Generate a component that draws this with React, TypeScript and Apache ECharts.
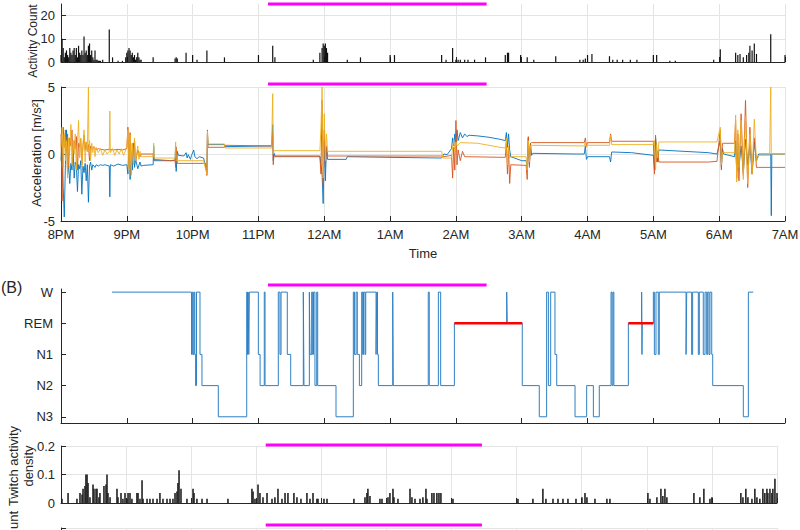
import React, { useEffect, useRef } from "react";
import * as echarts from "echarts";

// x values are minutes after 8PM
const timeLabels = ["8PM", "9PM", "10PM", "11PM", "12AM", "1AM", "2AM", "3AM", "4AM", "5AM", "6AM", "7AM"];
const stageNames = ["N3", "N2", "N1", "REM", "W"];
const sleepWindow = [188.7, 388];

const activityCount: number[][] = [
  [0, 3], [1, 10], [2, 6], [3, 2], [4, 4], [5, 5], [6, 3], [7, 2], [8, 6], [9, 4], [10, 3], [11, 5], [12, 6], [13, 3], [14, 6], [15, 2], [16, 7], [17, 4], [18, 3], [19, 5], [20, 3], [21, 11], [22, 4], [23, 5], [24, 3], [25, 7], [26, 8], [27, 3], [28, 5], [29, 2], [30, 1], [31, 5], [32, 1], [33, 1], [34, 0.5], [35, 0.5], [36, 0.5], [38, 1], [44, 14], [47, 2], [52, 0.5], [56, 0.5],
  [59, 2], [60, 4], [61, 5], [62, 6], [63, 5], [64, 3], [65, 4], [66, 2], [67, 3], [68, 1], [69, 2], [70, 4], [71, 2], [72, 1], [73, 1], [84, 2], [104, 1.5], [105, 2], [106, 1.5], [114, 4], [120, 3], [124, 1], [133, 5], [149, 2], [180, 3], [193, 7], [195, 2], [230, 1], [236, 4], [238, 6], [239, 8], [240, 7], [241, 8], [242, 6], [243, 4], [261, 1], [273, 2], [300, 3], [304, 3], [347, 3], [351, 1], [357, 6], [360, 1], [362, 1], [364, 1], [368, 1], [371, 1], [377, 1], [387, 2], [405, 3], [407, 4], [408, 4], [419, 3], [425, 2], [431, 1], [451, 2.5], [473, 1], [476, 1], [478, 1.5], [480, 3], [484, 3.5], [500, 2.5], [503, 1], [507, 1], [512, 1], [519, 1], [525, 1], [540, 3], [543, 3], [555, 0.5], [560, 0.5], [595, 1], [601, 5.5], [615, 4], [617, 3], [619, 3.5], [622, 2], [625, 3], [627, 4], [628, 7], [630, 5], [632, 8], [634, 3.5], [647, 12], [660, 3],
];

const accBlue: number[][] = [
  [0, -0.5], [1, 1.2], [2, -2.5], [3, -4.7], [4, -0.8], [5, 1.8], [6, -1.5], [7, -0.9], [8, -2.2], [9, -0.7], [10, -1.2], [11, 0.3], [12, -1.8], [13, -0.6], [14, -0.9], [15, -2.8], [16, -0.8], [17, -1.1], [18, -0.5], [19, -3.0], [20, -0.9], [21, -1.4], [22, -0.7], [23, -2.0], [24, -0.8], [25, -3.6], [26, -0.9], [27, -0.6], [28, -1.2], [29, -0.8], [30, -0.9], [31, -1.0], [32, -0.8], [34, -0.9], [36, -0.8], [38, -0.85], [40, -0.8], [44, -0.9], [44.5, -3.2], [45, -0.8], [48, -0.9], [52, -0.75], [56, -0.85], [60, -0.8], [61, -1.5], [62, 0.5], [63, -1.9], [64, -0.5], [65, -1.2], [66, 0.8], [67, -1.0], [68, -0.4], [70, -1.1], [72, -0.6], [73, -0.9], [75, -0.85], [84, -0.8], [84.5, 0.6], [85, -0.5], [100, -0.5], [104, -0.45], [104.5, 0.6], [105, -1.3], [106, 0.2], [107, -0.1], [112, -0.15], [114, 0.1], [115, -0.3], [116, -0.05], [118, -0.4], [119, -0.1], [121, 0.3], [122, -0.2], [124, -0.35], [126, -0.2], [130, -0.3], [133, -1.4], [133.5, 1.5], [134, 0.7], [149, 0.7], [149.5, 0.55], [192, 0.6], [193, 2.2], [193.5, -0.5], [194, 0.1], [195, -0.15], [236, -0.15], [238, -1.5], [239, -3.7], [240, 1.0], [241, -2.0], [242, 0.5], [243, -0.4], [260, -0.4], [261, -0.2], [300, -0.25], [347, -0.3], [349, 0], [352, -0.05], [356, 0.4], [357, 1.2], [358, 0.6], [359, 1.5], [360, 0.8], [361, 1.8], [362, 1.0], [364, 1.6], [366, 1.2], [368, 1.5], [370, 1.3], [372, 1.4], [380, 1.35], [390, 1.25], [400, 1.1], [405, 1.0], [406, 1.6], [407, 0.5], [408, 1.5], [409, 0.3], [410, -0.2], [420, -0.5], [424, -0.5], [425, -1.0], [426, 1.2], [427, -0.8], [428, 0.8], [429, -0.1], [430, 0.05], [470, 0], [477, 0], [478, 0.6], [479, -0.4], [480, -0.2], [500, -0.2], [501, -0.6], [502, 0.15], [520, 0.1], [540, -0.1], [541, -1.1], [542, 1.2], [543, 0.3], [544, -0.6], [545, 0.3], [590, 0.1], [598, 0], [601, 1.0], [602, -1.0], [603, 0.4], [604, 0], [614, -0.2], [615, 1.0], [616, -1.3], [617, 0.8], [618, -0.9], [620, 0.6], [622, -1.4], [624, 1.1], [626, -0.8], [628, 0.7], [630, -1.5], [632, 0.9], [634, -0.5], [636, 0], [647, 0], [647.5, -4.6], [648, 0], [660, 0],
];

const accOrange: number[][] = [
  [0, 1.5], [1, -3.5], [2, 2.0], [3, 0.5], [4, 1.8], [5, 0.2], [6, 1.5], [7, -1.0], [8, 1.2], [9, 0.6], [10, 1.8], [11, -0.5], [12, 1.0], [13, 0.4], [14, 1.3], [15, -1.2], [16, 0.8], [17, 0.5], [18, 1.1], [19, -0.8], [20, 0.6], [21, 1.4], [22, 0.3], [23, 0.9], [24, 0.2], [25, 0.7], [26, -0.5], [27, 0.6], [28, 0.4], [30, 0.5], [32, 0.3], [34, 0.4], [36, 0.35], [40, 0.3], [44, 0.35], [48, 0.3], [52, 0.35], [56, 0.3], [60, 0.4], [61, 2.0], [62, -0.8], [63, 1.6], [64, -1.5], [65, 0.8], [66, -0.3], [67, 1.0], [68, -0.6], [70, 0.3], [72, -0.2], [73, 0], [84, 0], [84.5, -0.5], [85, -0.4], [100, -0.5], [104, -0.5], [104.5, -1.0], [105, 0.5], [106, -0.7], [130, -0.7], [132, -0.7], [133, -1.6], [133.5, 1.8], [134, 0.5], [149, 0.5], [149.5, 0.65], [192, 0.6], [193, 1.5], [193.5, -0.8], [194, -0.2], [236, -0.2], [237, -1.5], [238, 4.0], [239, -2.3], [240, 1.8], [241, -1.0], [242, 0.6], [243, -0.15], [347, -0.15], [349, -0.2], [356, -0.1], [357, -1.8], [358, 0.5], [359, -1.2], [360, 2.5], [361, -0.8], [362, 0.3], [364, -0.5], [366, 0.2], [368, -0.2], [405, -0.25], [406, 0.8], [407, -1.5], [408, 0.4], [409, -2.2], [410, -0.8], [424, -0.85], [425, -1.9], [426, 1.3], [427, -1.0], [428, 0.8], [429, 0.85], [477, 0.85], [478, 1.2], [479, 0.6], [480, 0.85], [500, 0.85], [501, 1.5], [502, 0.95], [540, 0.95], [541, -1.5], [542, 1.4], [543, -0.6], [544, 0.2], [545, -0.6], [590, -0.6], [598, -0.55], [601, 1.8], [602, -1.2], [603, 0.8], [604, 0.8], [614, 0.8], [615, 2.5], [616, -1.8], [617, 1.5], [618, -2.0], [620, 3.0], [622, -1.6], [624, 4.0], [626, -2.5], [628, 2.0], [630, -1.5], [632, 1.2], [634, -1.0], [636, -1.0], [660, -1.0],
];

const accYellow: number[][] = [
  [0, 0.5], [1, 2.0], [2, -1.0], [3, 1.5], [4, -0.5], [5, 1.0], [6, -1.8], [7, 1.2], [8, 0.2], [9, 2.2], [10, -0.8], [11, 1.0], [12, 0.0], [13, 1.5], [14, -1.2], [15, 0.8], [16, 2.5], [17, -0.3], [18, 1.2], [19, -1.0], [20, 0.6], [21, 1.8], [22, -0.6], [23, 0.9], [24, 0.2], [25, 5.0], [25.5, 0.2], [26, 1.0], [27, -0.5], [28, 0.8], [29, 0.1], [30, 0.6], [31, -0.2], [32, 0.5], [34, 0.1], [36, 0.4], [38, -0.1], [40, 0.3], [42, 0.0], [44, 0.2], [44.5, 3.2], [45, 0.1], [47, 0.4], [49, -0.1], [51, 0.3], [53, 0.0], [55, 0.4], [57, -0.1], [59, 0.3], [60, 0.5], [61, 1.8], [62, -1.2], [63, 1.4], [64, -1.6], [65, 0.8], [66, -0.8], [67, 1.2], [68, -0.5], [70, 0.6], [71, -0.4], [72, 0.2], [73, -0.2], [84, -0.2], [84.5, 0.8], [85, -0.3], [104, -0.3], [104.5, 0.9], [105, -0.5], [106, -0.5], [130, -0.5], [133, -1.5], [133.5, 1.7], [134, 0.75], [149, 0.75], [149.5, 0.45], [192, 0.45], [193, 4.5], [193.5, 0.0], [194, 0.25], [236, 0.25], [237, 2.0], [238, 5.0], [239, -1.8], [240, 3.0], [241, -0.5], [242, 1.5], [243, 0.2], [347, 0.2], [348, -0.3], [356, -0.3], [357, 0.5], [358, 1.0], [359, 0.2], [360, 0.9], [361, 0.6], [364, 0.85], [380, 0.8], [400, 0.5], [405, 0.45], [406, 1.2], [407, -0.8], [408, 0.6], [409, -0.3], [410, -0.2], [424, -0.2], [425, -1.2], [426, 1.0], [427, -0.6], [428, 0.65], [477, 0.6], [478, 0.9], [479, 0.5], [480, 0.65], [500, 0.65], [501, 1.4], [502, 0.7], [540, 0.7], [541, 1.0], [542, -1.2], [543, 0.7], [544, -0.3], [545, 0.9], [598, 0.9], [601, 2.0], [602, -0.8], [603, 0.1], [614, 0.1], [615, 2.9], [616, -2.1], [617, 1.8], [618, -1.0], [620, 2.5], [622, -1.9], [624, 2.8], [626, -2.2], [628, 1.5], [630, -1.5], [632, 2.6], [634, -0.6], [636, -0.1], [646, -0.1], [647, 5.0], [647.5, 0], [660, 0],
];

// stage index: 0=N3, 1=N2, 2=N1, 3=REM, 4=W ; [minute stage starts, stage]
const hypnogram: number[][] = [
  [46.5, 4], [119.0, 2], [119.7, 4], [120.5, 2], [121.3, 4], [122.0, 2], [122.7, 1], [123.5, 4], [126.7, 2], [128.5, 1], [143.4, 0], [169.3, 4], [170.0, 2], [170.6, 4], [171.2, 2], [171.7, 4], [179.9, 2], [181.5, 1], [185.3, 4], [186.0, 1], [198.1, 4], [199.6, 2], [200.6, 4], [206.3, 2], [209.4, 1], [220.9, 4], [221.5, 1], [226.4, 4], [227.0, 2], [228.5, 4], [229.4, 2], [230.2, 4], [231.5, 1], [233.1, 4], [234.0, 1], [250.7, 0], [266.5, 4], [267.5, 2], [269.0, 4], [270.1, 2], [272.0, 1], [274.1, 4], [275.0, 2], [275.8, 4], [277.1, 2], [277.8, 4], [287.2, 2], [287.8, 4], [288.5, 2], [289.3, 1], [302.4, 4], [302.9, 1], [334.8, 4], [335.7, 1], [344.0, 4], [346.1, 1], [358.6, 3], [406.3, 4], [406.8, 3], [420.5, 1], [436.0, 0], [442.7, 4], [444.3, 1], [446.4, 4], [450.3, 2], [451.9, 1], [468.6, 0], [479.2, 1], [485.3, 0], [490.7, 1], [501.4, 4], [502.3, 1], [503.2, 4], [504.0, 1], [517.2, 3], [529.3, 4], [529.6, 2], [529.9, 3], [540.0, 4], [540.9, 2], [542.4, 4], [544.5, 2], [545.4, 4], [569.8, 2], [570.4, 4], [574.9, 2], [575.8, 4], [581.0, 2], [581.9, 4], [585.5, 2], [587.1, 4], [588.6, 2], [589.5, 4], [590.7, 2], [591.6, 4], [593.2, 2], [594.1, 1], [622.0, 0], [626.6, 4], [631.1, 4],
];

const remPeriods: number[][] = [[358.6, 420.5], [517.2, 540.0]];

const twitchDensity: number[][] = [
  [0.9, 0.015], [6.5, 0.035], [14.7, 0.015], [17.5, 0.035], [19.4, 0.03], [20.3, 0.05], [22.1, 0.06], [23, 0.1], [24, 0.1], [24.9, 0.07], [26.7, 0.02], [29.5, 0.065], [30.4, 0.05], [32.3, 0.05], [33.2, 0.05], [35, 0.02], [35.9, 0.035], [39.6, 0.06], [41.5, 0.065], [42.4, 0.1], [43.3, 0.035], [45.2, 0.02], [51.6, 0.05], [52.5, 0.02], [55.3, 0.035], [57.1, 0.015], [59, 0.035], [60.8, 0.015], [61.8, 0.035], [63.6, 0.035], [65.4, 0.015], [70, 0.035], [71, 0.035], [72.8, 0.015], [74.7, 0.08], [75.6, 0.015], [79.3, 0.015], [82, 0.015], [84.8, 0.015], [88.5, 0.015], [91.2, 0.035], [94, 0.015], [97.7, 0.015], [100.5, 0.015], [103.2, 0.015], [105.1, 0.035], [106.9, 0.04], [107.8, 0.07], [108.8, 0.115], [110.6, 0.05], [116.1, 0.015], [121.7, 0.05], [122.6, 0.035], [125.3, 0.015], [130, 0.015], [134.6, 0.015], [153.9, 0.015], [176, 0.05], [177, 0.04], [178.8, 0.015], [181.6, 0.065], [183.4, 0.035], [186.2, 0.02], [189.9, 0.035],
  [194.5, 0.015], [197.2, 0.02], [200, 0.05], [203.7, 0.015], [206.5, 0.035], [209.2, 0.035], [214.7, 0.035], [217.5, 0.02], [221.2, 0.015], [226.7, 0.035], [229.5, 0.015], [232.3, 0.035], [235.9, 0.015], [236.9, 0.015], [242.4, 0.015], [245.2, 0.015], [270, 0.015], [280.2, 0.02], [282, 0.035], [282.9, 0.05], [284.8, 0.025], [294, 0.015], [295.9, 0.015], [301.4, 0.02], [303.2, 0.035], [306, 0.05], [306.9, 0.02], [310.6, 0.015], [321.7, 0.05], [323.5, 0.02], [326.3, 0.015], [330.9, 0.015], [333.6, 0.02], [336.4, 0.05], [337.3, 0.015], [341.9, 0.035], [343.8, 0.035], [346.5, 0.035], [348.4, 0.035], [350.2, 0.035], [361.3, 0.015], [421.2, 0.015], [435, 0.015], [444.2, 0.05], [447, 0.015], [453.5, 0.015], [458.1, 0.015], [462.7, 0.015], [467.3, 0.015], [474.7, 0.015], [480.2, 0.02], [483, 0.035], [484.8, 0.02], [492.2, 0.015], [503.2, 0.015], [506, 0.015], [541, 0.035], [542.9, 0.015], [549.3, 0.02], [553, 0.05], [554.8, 0.025], [556.7, 0.05], [558.5, 0.02], [583.4, 0.035], [588.9, 0.02], [592.6, 0.05], [598.2, 0.015], [600, 0.02], [626.7, 0.035], [628.6, 0.02], [631.3, 0.05], [633.2, 0.02], [636.9, 0.015], [639.6, 0.05], [641.5, 0.02], [644.2, 0.015], [647, 0.05], [648.8, 0.035], [650.7, 0.05], [651.6, 0.035], [653.5, 0.05], [655.3, 0.035], [656.2, 0.05], [658.1, 0.085], [660, 0.035],
];

const AX = "#262626";
const GRIDC = "#e4e4e4";
const FONT = "'Liberation Sans', Arial, Helvetica, sans-serif";

export default function App() {
  const ref = useRef<HTMLDivElement>(null);
  useEffect(() => {
    if (!ref.current) return;
    const chart = echarts.init(ref.current, null, { renderer: "svg" });

    const grids = [
      { left: 61, right: 15, top: 4, height: 58 },
      { left: 61, right: 15, top: 87, height: 134 },
      { left: 61, right: 15, top: 289, height: 134 },
      { left: 61, right: 23, top: 446, height: 57 },
      { left: 61, right: 23, top: 528, height: 60 },
    ].map((g) => ({ ...g, containLabel: false, outerBoundsMode: "none" }));

    const mkX = (i: number, labels: boolean, grid: boolean) => ({
      type: "value",
      gridIndex: i,
      min: 0,
      max: 660,
      interval: 60,
      axisLine: { show: true, onZero: false, lineStyle: { color: AX, width: 1 } },
      axisTick: { show: true, inside: true, length: 5, lineStyle: { color: AX } },
      axisLabel: {
        show: labels,
        color: AX,
        fontSize: 13,
        margin: 7,
        fontFamily: FONT,
        formatter: (v: number) => timeLabels[Math.round(v / 60)] ?? "",
      },
      splitLine: { show: grid, lineStyle: { color: GRIDC, width: 1 } },
    });

    const yBase = (i: number) => ({
      type: "value",
      gridIndex: i,
      axisLine: { show: true, onZero: false, lineStyle: { color: AX, width: 1 } },
      splitLine: { show: true, lineStyle: { color: GRIDC, width: 1 } },
    });

    const xAxis = [mkX(0, false, true), { ...mkX(1, true, true), name: "Time", nameLocation: "middle", nameGap: 26, nameTextStyle: { color: AX, fontSize: 13, fontFamily: FONT } }, mkX(2, false, false), mkX(3, false, true), mkX(4, false, true)];

    const yAxis = [
      {
        ...yBase(0), min: 0, max: 25, interval: 2,
        axisTick: { show: true, inside: true, length: 5, customValues: [0, 10, 20], lineStyle: { color: AX } },
        axisLabel: { color: AX, fontSize: 13, margin: 6, fontFamily: FONT, customValues: [0, 10, 20] },
      },
      {
        ...yBase(1), min: -5, max: 5, interval: 1,
        axisTick: { show: true, inside: true, length: 5, customValues: [-5, 0, 5], lineStyle: { color: AX } },
        axisLabel: { color: AX, fontSize: 13, margin: 6, fontFamily: FONT, customValues: [-5, 0, 5] },
      },
      {
        ...yBase(2), min: -0.2, max: 4.1,
        splitLine: { show: false },
        axisTick: { show: true, inside: true, length: 5, customValues: [0, 1, 2, 3, 4], lineStyle: { color: AX } },
        axisLabel: { color: AX, fontSize: 13, margin: 8, fontFamily: FONT, customValues: [0, 1, 2, 3, 4], formatter: (v: number) => stageNames[Math.round(v)] },
      },
      {
        ...yBase(3), min: 0, max: 0.2, interval: 0.02,
        axisTick: { show: true, inside: true, length: 5, customValues: [0, 0.1, 0.2], lineStyle: { color: AX } },
        axisLabel: { color: AX, fontSize: 13, margin: 6, fontFamily: FONT, customValues: [0, 0.1, 0.2], formatter: (v: number) => (v === 0 ? "0" : v.toFixed(1)) },
      },
      {
        ...yBase(4), min: 0, max: 10, interval: 2,
        axisTick: { show: true, inside: true, length: 5, customValues: [10], lineStyle: { color: AX } },
        axisLabel: { show: false },
      },
    ];

    const magentaY = [25, 5.22, 4.23, 0.2035, 10.5];
    const magenta = magentaY.map((y, i) => ({
      type: "line",
      xAxisIndex: i,
      yAxisIndex: i,
      data: [[sleepWindow[0], y], [sleepWindow[1], y]],
      symbol: "none",
      clip: false,
      silent: true,
      z: 10,
      lineStyle: { color: "#ff00ff", width: 3 },
    }));

    const accLine = (data: number[][], color: string) => ({
      type: "line",
      xAxisIndex: 1,
      yAxisIndex: 1,
      data,
      symbol: "none",
      silent: true,
      lineStyle: { color, width: 0.9 },
    });

    const rem = remPeriods.map((p) => ({
      type: "line",
      xAxisIndex: 2,
      yAxisIndex: 2,
      data: [[p[0], 3], [p[1], 3]],
      symbol: "none",
      silent: true,
      z: 5,
      lineStyle: { color: "#ff0000", width: 2.5 },
    }));

    const option = {
      animation: false,
      textStyle: { fontFamily: FONT },
      grid: grids,
      xAxis,
      yAxis,
      series: [
        {
          type: "bar",
          xAxisIndex: 0,
          yAxisIndex: 0,
          data: activityCount,
          barWidth: 1.2,
          silent: true,
          itemStyle: { color: "#111111" },
        },
        accLine(accBlue, "#0072BD"),
        accLine(accOrange, "#D95319"),
        accLine(accYellow, "#EDB120"),
        {
          type: "line",
          xAxisIndex: 2,
          yAxisIndex: 2,
          data: hypnogram,
          step: "end",
          symbol: "none",
          silent: true,
          lineStyle: { color: "#2f80c4", width: 1 },
        },
        ...rem,
        {
          type: "bar",
          xAxisIndex: 3,
          yAxisIndex: 3,
          data: twitchDensity,
          barWidth: 1.6,
          silent: true,
          itemStyle: { color: "#222222" },
        },
        ...magenta,
      ],
      graphic: [
        { type: "text", x: 33, y: 41, rotation: Math.PI / 2, silent: true, style: { text: "Activity Count", fontSize: 12, fontFamily: FONT, fill: AX, align: "center", verticalAlign: "middle" } },
        { type: "text", x: 36, y: 153, rotation: Math.PI / 2, silent: true, style: { text: "Acceleration [m/s²]", fontSize: 13, fontFamily: FONT, fill: AX, align: "center", verticalAlign: "middle" } },
        { type: "text", x: 1, y: 287, silent: true, style: { text: "(B)", fontSize: 16, fontFamily: FONT, fill: AX, align: "left", verticalAlign: "middle" } },
        { type: "text", x: 21, y: 466, rotation: Math.PI / 2, silent: true, style: { text: "Twitch activity\ndensity", fontSize: 13, lineHeight: 15, fontFamily: FONT, fill: AX, align: "center", verticalAlign: "middle" } },
        { type: "text", x: 13, y: 511, rotation: Math.PI / 2, silent: true, style: { text: "unt", fontSize: 13, fontFamily: FONT, fill: AX, align: "right", verticalAlign: "middle" } },
      ],
    };

    chart.setOption(option as any);
    return () => chart.dispose();
  }, []);

  return <div ref={ref} style={{ position: "absolute", left: 0, top: 0, width: 800, height: 530 }} />;
}
